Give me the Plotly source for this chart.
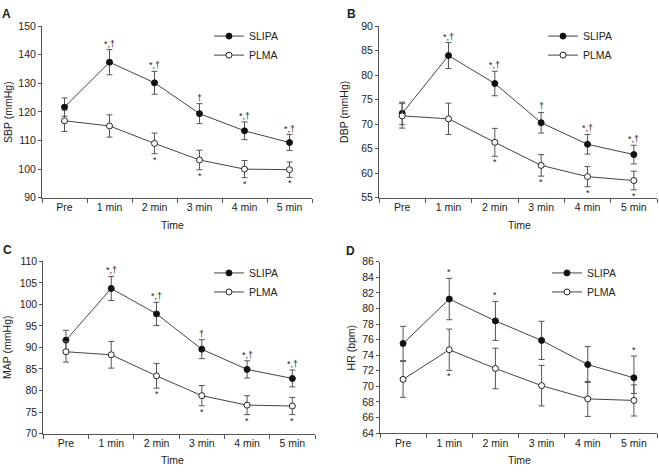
import plotly.graph_objects as go

categories = ["Pre", "1 min", "2 min", "3 min", "4 min", "5 min"]

# Panel A - SBP
sbp_slipa = [121.7, 137.4, 130.2, 119.4, 113.4, 109.3]
sbp_slipa_sd = [3.2, 4.4, 4.0, 3.5, 3.1, 2.8]
sbp_plma = [116.9, 115.1, 109.0, 103.2, 100.0, 99.8]
sbp_plma_sd = [3.7, 3.9, 3.6, 3.4, 3.0, 2.7]
sbp_slipa_sig = ["", "*,†", "*,†", "†", "*,†", "*,†"]
sbp_plma_sig = ["", "", "*", "*", "*", "*"]

# Panel B - DBP
dbp_slipa = [72.2, 84.0, 78.3, 70.3, 65.9, 63.8]
dbp_slipa_sd = [2.3, 2.65, 2.5, 2.1, 2.0, 1.9]
dbp_plma = [71.7, 71.1, 66.3, 61.6, 59.3, 58.5]
dbp_plma_sd = [2.5, 3.2, 2.85, 2.2, 2.05, 1.9]
dbp_slipa_sig = ["", "*,†", "*,†", "†", "*,†", "*,†"]
dbp_plma_sig = ["", "", "*", "*", "*", "*"]

# Panel C - MAP
map_slipa = [91.7, 103.7, 97.8, 89.6, 84.9, 82.8]
map_slipa_sd = [2.3, 2.8, 2.7, 2.2, 2.0, 1.95]
map_plma = [89.0, 88.3, 83.4, 78.8, 76.6, 76.4]
map_plma_sd = [2.4, 3.1, 2.85, 2.35, 2.2, 2.0]
map_slipa_sig = ["", "*,†", "*,†", "†", "*,†", "*,†"]
map_plma_sig = ["", "", "*", "*", "*", "*"]

# Panel D - HR
hr_slipa = [75.5, 81.2, 78.4, 75.9, 72.8, 71.1]
hr_slipa_plus = [2.2, 2.65, 2.5, 2.45, 2.3, 2.8]
hr_slipa_minus = [2.2, 2.65, 2.5, 2.45, 2.3, 2.0]
hr_plma = [70.9, 74.7, 72.3, 70.1, 68.4, 68.2]
hr_plma_sd = [2.3, 2.65, 2.6, 2.6, 2.25, 2.0]
hr_slipa_sig = ["", "*", "*", "", "", "*"]
hr_plma_sig = ["", "*", "", "", "", ""]

W, H = 659, 473
FONT = "Liberation Sans, Arial, sans-serif"
TXT = "#222222"
LINE = "#444444"
ERR = "#555555"


def px_x(p):
    return p / W


def px_y(p):
    return 1 - p / H


panels = [
    dict(key="A", ax="", legend="legend", title="SBP (mmHg)",
         slipa=sbp_slipa, sp=sbp_slipa_sd, sm=sbp_slipa_sd,
         plma=sbp_plma, pp=sbp_plma_sd, pm=sbp_plma_sd,
         ssig=sbp_slipa_sig, psig=sbp_plma_sig,
         xd=(42, 312), yd=(20.7, 196.7), yr=(90, 150), dt=10,
         letter=(6.5, 8), ytitle=(8, 108.7), xtitle=(172, 225), leg=(209, 16)),
    dict(key="B", ax="2", legend="legend2", title="DBP (mmHg)",
         slipa=dbp_slipa, sp=dbp_slipa_sd, sm=dbp_slipa_sd,
         plma=dbp_plma, pp=dbp_plma_sd, pm=dbp_plma_sd,
         ssig=dbp_slipa_sig, psig=dbp_plma_sig,
         xd=(379, 657), yd=(20.7, 196.7), yr=(55, 90), dt=5,
         letter=(351, 8), ytitle=(344, 108.7), xtitle=(519, 225), leg=(543, 16)),
    dict(key="C", ax="3", legend="legend3", title="MAP (mmHg)",
         slipa=map_slipa, sp=map_slipa_sd, sm=map_slipa_sd,
         plma=map_plma, pp=map_plma_sd, pm=map_plma_sd,
         ssig=map_slipa_sig, psig=map_plma_sig,
         xd=(43.3, 315), yd=(262, 438.7), yr=(70, 110), dt=5,
         letter=(7.5, 250), ytitle=(7.5, 350.3), xtitle=(172, 466), leg=(209, 259)),
    dict(key="D", ax="4", legend="legend4", title="HR (bpm)",
         slipa=hr_slipa, sp=hr_slipa_plus, sm=hr_slipa_minus,
         plma=hr_plma, pp=hr_plma_sd, pm=hr_plma_sd,
         ssig=hr_slipa_sig, psig=hr_plma_sig,
         xd=(380, 657), yd=(262.3, 438.3), yr=(64, 86), dt=2,
         letter=(350, 251.5), ytitle=(351, 350.3), xtitle=(519, 466), leg=(547, 259)),
]

fig = go.Figure()
annotations = []
layout = {}

for p in panels:
    xa = "x" + p["ax"]
    ya = "y" + p["ax"]
    fig.add_trace(go.Scatter(
        x=categories, y=p["slipa"], name="SLIPA", mode="lines+markers",
        xaxis=xa, yaxis=ya, legend=p["legend"],
        line=dict(color=LINE, width=1),
        marker=dict(symbol="circle", size=6, color="#111111",
                    line=dict(color="#111111", width=1)),
        error_y=dict(type="data", symmetric=False, array=p["sp"], arrayminus=p["sm"],
                     color=ERR, thickness=1, width=3),
    ))
    fig.add_trace(go.Scatter(
        x=categories, y=p["plma"], name="PLMA", mode="lines+markers",
        xaxis=xa, yaxis=ya, legend=p["legend"],
        line=dict(color=LINE, width=1),
        marker=dict(symbol="circle", size=6, color="white",
                    line=dict(color="#222222", width=1)),
        error_y=dict(type="data", symmetric=False, array=p["pp"], arrayminus=p["pm"],
                     color=ERR, thickness=1, width=3),
    ))
    # significance marks
    for i, c in enumerate(categories):
        if p["ssig"][i]:
            annotations.append(dict(
                x=c, y=p["slipa"][i] + p["sp"][i], xref=xa, yref=ya,
                text=p["ssig"][i], showarrow=False, yanchor="bottom", yshift=-1,
                font=dict(family=FONT, size=9, color=TXT)))
        if p["psig"][i]:
            annotations.append(dict(
                x=c, y=p["plma"][i] - p["pm"][i], xref=xa, yref=ya,
                text=p["psig"][i], showarrow=False, yanchor="top", yshift=1,
                font=dict(family=FONT, size=9, color=TXT)))
    # panel letter
    annotations.append(dict(
        x=px_x(p["letter"][0]), y=px_y(p["letter"][1]), xref="paper", yref="paper",
        text="<b>" + p["key"] + "</b>", showarrow=False, xanchor="center", yanchor="middle",
        font=dict(family=FONT, size=12, color=TXT)))
    # axis titles
    annotations.append(dict(
        x=px_x(p["ytitle"][0]), y=px_y(p["ytitle"][1]), xref="paper", yref="paper",
        text=p["title"], showarrow=False, textangle=-90, xanchor="center", yanchor="middle",
        font=dict(family=FONT, size=10.5, color=TXT)))
    annotations.append(dict(
        x=px_x(p["xtitle"][0]), y=px_y(p["xtitle"][1]), xref="paper", yref="paper",
        text="Time", showarrow=False, xanchor="center", yanchor="middle",
        font=dict(family=FONT, size=10.5, color=TXT)))

    xkey = "xaxis" + p["ax"]
    ykey = "yaxis" + p["ax"]
    layout[xkey] = dict(
        domain=[px_x(p["xd"][0]), px_x(p["xd"][1])], anchor=ya,
        type="category", categoryorder="array", categoryarray=categories,
        range=[-0.5, 5.5], tickson="boundaries", ticks="outside", ticklen=4,
        tickcolor="#555555", showline=True, linecolor="#555555", linewidth=1,
        showgrid=False, zeroline=False, fixedrange=True,
        tickfont=dict(family=FONT, size=10.5, color=TXT))
    layout[ykey] = dict(
        domain=[px_y(p["yd"][1]), px_y(p["yd"][0])], anchor=xa,
        range=list(p["yr"]), dtick=p["dt"], tick0=p["yr"][0], ticks="outside", ticklen=3,
        tickcolor="#555555", showline=True, linecolor="#555555", linewidth=1,
        showgrid=False, zeroline=False,
        tickfont=dict(family=FONT, size=10.5, color=TXT))
    layout[p["legend"]] = dict(
        x=px_x(p["leg"][0]), y=px_y(p["leg"][1]), xanchor="left", yanchor="top",
        bgcolor="rgba(0,0,0,0)", font=dict(family=FONT, size=10.5, color=TXT),
        tracegroupgap=0, itemwidth=30)

fig.update_layout(
    width=W, height=H, autosize=False,
    margin=dict(l=0, r=0, t=0, b=0),
    paper_bgcolor="white", plot_bgcolor="white",
    showlegend=True,
    annotations=annotations,
    **layout,
)

fig.write_html("out.html", config={"displayModeBar": False},
               post_script="document.body.style.margin='0';document.body.style.overflow='hidden';")
